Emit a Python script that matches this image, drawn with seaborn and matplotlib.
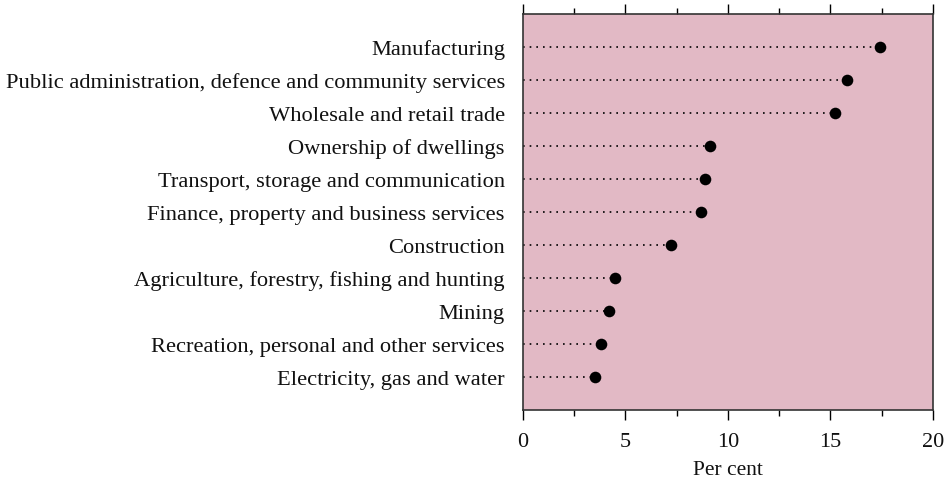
import matplotlib
matplotlib.use("Agg")
import matplotlib.pyplot as plt
from matplotlib.ticker import MultipleLocator
import seaborn as sns
import pandas as pd

sectors = [
    "Manufacturing",
    "Public administration, defence and community services",
    "Wholesale and retail trade",
    "Ownership of dwellings",
    "Transport, storage and communication",
    "Finance, property and business services",
    "Construction",
    "Agriculture, forestry, fishing and hunting",
    "Mining",
    "Recreation, personal and other services",
    "Electricity, gas and water",
]
values = [17.4, 15.8, 15.2, 9.1, 8.9, 8.7, 7.2, 4.5, 4.2, 3.8, 3.5]
x_ticks = [0, 5, 10, 15, 20]

df = pd.DataFrame({"sector": sectors, "value": values})

sns.set_style("white")
plt.rcParams["font.family"] = ["Liberation Serif", "DejaVu Serif"]

fig = plt.figure(figsize=(9.5, 4.81), dpi=100)
ax = fig.add_axes([0.5505, 0.1455, 0.4316, 0.8233])
ax.set_facecolor("#E2B9C5")

ax.hlines(y=range(len(df)), xmin=0, xmax=df["value"], colors="black",
          linestyles=(0, (1, 3)), linewidth=1.2, zorder=2)
sns.scatterplot(data=df, x="value", y=range(len(df)), ax=ax, color="black",
                s=70, edgecolor="black", linewidth=0, zorder=3, legend=False)

ax.set_yticks(range(len(df)))
ax.set_yticklabels(sectors, fontsize=16.2, color="#111111")
ax.set_ylim(len(df), -1)
ax.set_xlim(0, 20)
ax.set_xticks(x_ticks)
ax.set_xticklabels([str(t) for t in x_ticks], fontsize=16, color="#111111")
ax.xaxis.set_minor_locator(MultipleLocator(2.5))
ax.tick_params(axis="x", which="major", direction="out", length=7, width=1,
               top=True, bottom=True, color="black", pad=9)
ax.tick_params(axis="x", which="minor", direction="out", length=4, width=1,
               top=True, bottom=True, color="black")
ax.tick_params(axis="y", length=0, pad=13)
ax.set_xlabel("Per cent", fontsize=15.5, labelpad=6, color="#111111")
ax.set_ylabel("")
for sp in ax.spines.values():
    sp.set_visible(True)
    sp.set_color("#333333")
    sp.set_linewidth(1.2)

fig.savefig("out.png", dpi=100)
